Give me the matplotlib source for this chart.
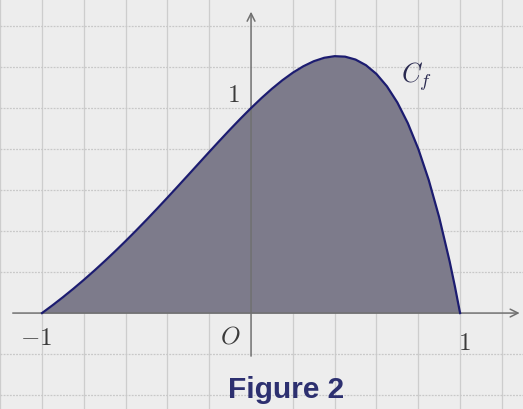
import matplotlib
matplotlib.use('Agg')
import matplotlib.pyplot as plt
import numpy as np

plt.rcParams['mathtext.fontset'] = 'cm'

curve_x = [-1.0, -0.95, -0.9, -0.85, -0.8, -0.75, -0.7, -0.65, -0.6, -0.55,
           -0.5, -0.45, -0.4, -0.35, -0.3, -0.25, -0.2, -0.15, -0.1, -0.05,
           0.0, 0.05, 0.1, 0.15, 0.2, 0.25, 0.3, 0.35, 0.4, 0.45,
           0.5, 0.55, 0.6, 0.65, 0.7, 0.75, 0.8, 0.85, 0.9, 0.95, 0.975, 1.0]
curve_y = [0.0, 0.0377, 0.0773, 0.1186, 0.1618, 0.2067, 0.2533, 0.3015, 0.3512, 0.4024,
           0.4549, 0.5085, 0.5631, 0.6184, 0.6741, 0.7301, 0.7860, 0.8413, 0.8958, 0.9489,
           1.0, 1.0486, 1.0941, 1.1357, 1.1726, 1.2038, 1.2284, 1.2452, 1.2531, 1.2507,
           1.2365, 1.2089, 1.1662, 1.1062, 1.0270, 0.9262, 0.8012, 0.6492, 0.4673, 0.2521, 0.1309, 0.0]

grid_ticks_x = [-1.2, -1.0, -0.8, -0.6, -0.4, -0.2, 0.2, 0.4, 0.6, 0.8, 1.0, 1.2]
grid_ticks_y = [-0.4, -0.2, 0.2, 0.4, 0.6, 0.8, 1.0, 1.2, 1.4]

bg = '#ededed'
fig = plt.figure(figsize=(5.23, 4.10), dpi=100, facecolor=bg)
ax = fig.add_axes([0, 0, 1, 1])
ax.set_facecolor(bg)
ax.set_xlim(-1.201, 1.301)
ax.set_ylim(-0.468, 1.532)
ax.axis('off')

# paper grid
for gx in grid_ticks_x:
    ax.axvline(gx, color='#cdcdcd', lw=0.9, zorder=0)
for gy in grid_ticks_y:
    ax.axhline(gy, color='#c8c8c8', lw=0.9, ls=(0, (1.5, 1)), zorder=0)

# area under the curve
ax.fill_between(curve_x, curve_y, 0, color='#7d7b8b', lw=0, zorder=1)
ax.plot(curve_x, curve_y, color='#1c1c70', lw=1.6, zorder=3)

# axes with arrows
ax.annotate('', xy=(1.285, 0), xytext=(-1.14, 0),
            arrowprops=dict(arrowstyle='->', color='#707070', lw=1.1,
                            mutation_scale=14, shrinkA=0, shrinkB=0), zorder=2)
ax.annotate('', xy=(0, 1.47), xytext=(0, -0.21),
            arrowprops=dict(arrowstyle='->', color='#707070', lw=1.1,
                            mutation_scale=14, shrinkA=0, shrinkB=0), zorder=2)

# labels
lab = dict(fontsize=18, color='#3a3a3a', ha='center', va='center')
ax.text(-0.086, 1.07, '$1$', **lab)
ax.text(-1.03, -0.115, '$-1$', **lab)
ax.text(1.02, -0.14, '$1$', **lab)
ax.text(-0.10, -0.11, '$O$', **lab)
ax.text(0.79, 1.16, '$C_f$', fontsize=19, color='#2a2a50', ha='center', va='center')

ax.text(0.17, -0.37, 'Figure 2', fontsize=21.5, fontweight='bold',
        family='Liberation Sans', color='#2d3070', ha='center', va='center')

fig.savefig('out.png', dpi=100, facecolor=bg)
